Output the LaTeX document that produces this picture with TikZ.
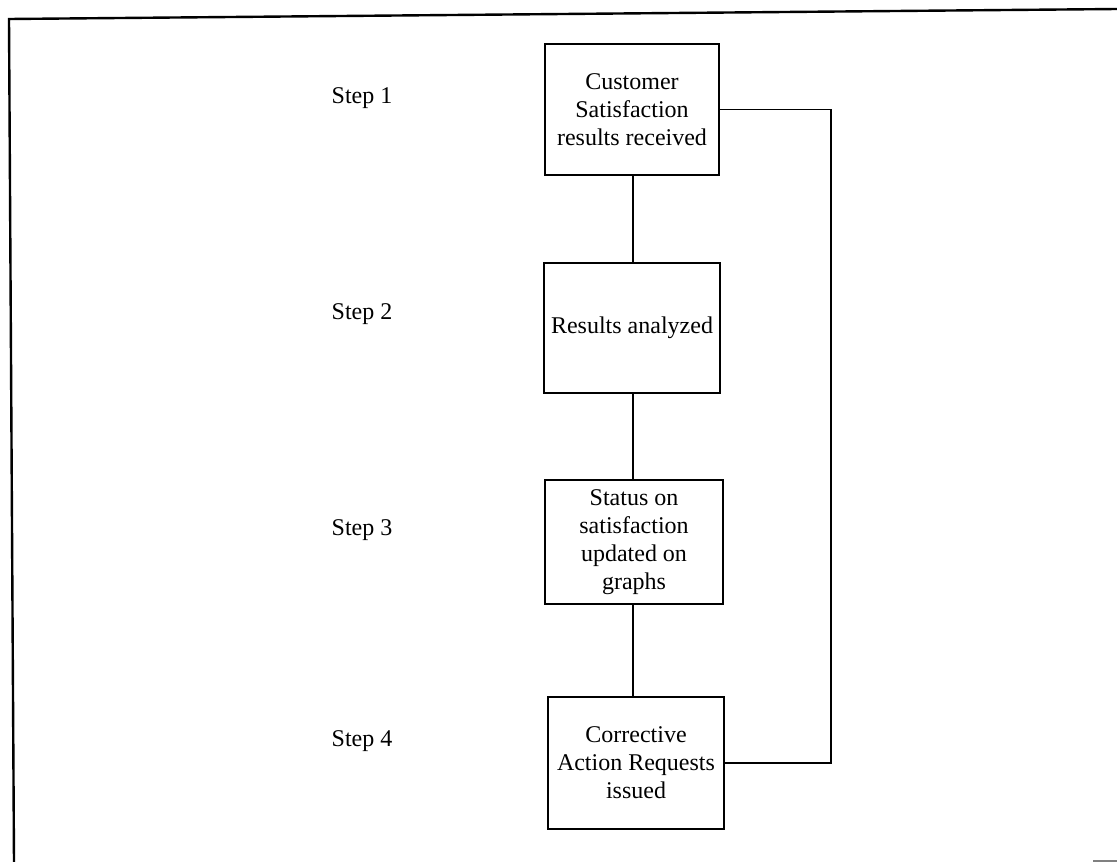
\documentclass[tikz,border=0pt]{standalone}
\usepackage{fontspec}
\setmainfont{Liberation Serif}
\begin{document}
\begin{tikzpicture}[x=1pt,y=-1pt,
  stepbox/.style={draw, line width=1.2pt, inner sep=0pt, align=center,
    font=\fontsize{24}{28}\selectfont},
  steplabel/.style={inner sep=0pt, font=\fontsize{24}{28}\selectfont},
  link/.style={line width=1.1pt},
  frame/.style={line width=2.4pt}]
\useasboundingbox (0,0) rectangle (1117,862);

% page frame
\coordinate (fa) at (9,19);
\coordinate (fb) at (1117,9);
\coordinate (fc) at (14,862);
\draw[frame] (fc) -- (fa) -- (fb);
\coordinate (fd) at (1093,861);
\coordinate (fe) at (1117,861);
\draw[line width=1.5pt, gray] (fd) -- (fe);

% process boxes
\node[stepbox, minimum width=174pt, minimum height=131pt] (b1) at (632,109.5)
  {Customer\\Satisfaction\\results received};
\node[stepbox, minimum width=176pt, minimum height=130pt] (b2) at (632,328)
  {Results analyzed};
\node[stepbox, minimum width=178pt, minimum height=124pt] (b3) at (634,542)
  {Status on\\satisfaction\\updated on\\graphs};
\node[stepbox, minimum width=176pt, minimum height=132pt] (b4) at (636,763)
  {Corrective\\Action Requests\\issued};

% step labels
\node[steplabel] (s1) at (362,98) {Step 1};
\node[steplabel] (s2) at (362,314) {Step 2};
\node[steplabel] (s3) at (362,530) {Step 3};
\node[steplabel] (s4) at (362,741) {Step 4};

% connectors
\coordinate (spine) at (633,0);
\coordinate (loop) at (831,0);
\draw[link] (b1.south -| spine) -- (b2.north -| spine);
\draw[link] (b2.south -| spine) -- (b3.north -| spine);
\draw[link] (b3.south -| spine) -- (b4.north -| spine);
\draw[link] (b1.east) -- (b1.east -| loop) -- (b4.east -| loop) -- (b4.east);
\end{tikzpicture}
\end{document}
